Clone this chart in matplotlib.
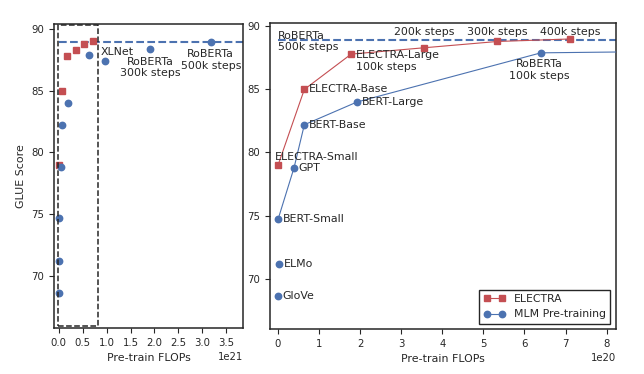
import numpy as np
import matplotlib
matplotlib.use('Agg')
import matplotlib.pyplot as plt
import matplotlib.patches as patches
import seaborn as sns

sns.set_style('ticks')
plt.rcParams['font.family'] = ['DejaVu Sans']
plt.rcParams['font.size'] = 7.9
plt.rcParams['axes.labelsize'] = 7.9
plt.rcParams['xtick.labelsize'] = 7.3
plt.rcParams['ytick.labelsize'] = 7.3
plt.rcParams['xtick.major.size'] = 3.5
plt.rcParams['ytick.major.size'] = 3.5

RED = '#C44E52'
BLUE = '#4C72B0'
DARK = '#262626'

# ELECTRA: Small, Base, Large 100k/200k/300k/400k
electra_flops = np.array([0.0, 0.64, 1.78, 3.55, 5.34, 7.12]) * 1e20
electra_glue = [79.0, 85.0, 87.8, 88.3, 88.8, 89.0]

# MLM line: BERT-Small, GPT, BERT-Base, BERT-Large, RoBERTa 100k/300k/500k
mlm_flops = np.array([0.0, 0.39, 0.64, 1.92, 6.4, 19.1, 31.8]) * 1e20
mlm_glue = [74.7, 78.8, 82.2, 84.0, 87.9, 88.35, 88.9]

# other baselines: GloVe, ELMo, XLNet
other_names = ['GloVe', 'ELMo', 'XLNet']
other_flops = np.array([0.0, 0.03, 9.6]) * 1e20
other_glue = [68.6, 71.2, 87.4]

roberta_best = 88.9

fig = plt.figure(figsize=(6.44, 3.74), dpi=100)
ax1 = fig.add_axes([0.084, 0.123, 0.293, 0.813])
ax2 = fig.add_axes([0.419, 0.120, 0.537, 0.818])

ms = 4.6
# ---- left: full view
ax1.plot([0, 1e22], [roberta_best, roberta_best], '--', color=BLUE, lw=1.5, zorder=1)
ax1.plot(electra_flops, electra_glue, 's', color=RED, ms=ms, zorder=3)
ax1.plot(mlm_flops, mlm_glue, 'o', color=BLUE, ms=ms, zorder=3)
ax1.plot(other_flops, other_glue, 'o', color=BLUE, ms=ms, zorder=3)
ax1.add_patch(patches.Rectangle((-0.2e20, 66.0), 8.4e20, 24.3, fill=False,
                                ls='--', lw=1.1, ec=DARK, zorder=4))
ax1.text(0.875e21, 88.1, 'XLNet', ha='left', va='center', color=DARK)
ax1.text(1.91e21, 87.76, 'RoBERTa\n300k steps', ha='center', va='top', color=DARK)
ax1.text(3.18e21, 88.35, 'RoBERTa\n500k steps', ha='center', va='top', color=DARK)
ax1.set_xlim(-0.1e21, 3.85e21)
ax1.set_ylim(65.8, 90.4)
ax1.set_xticks(np.arange(0, 3.6e21, 0.5e21))
ax1.set_yticks([70, 75, 80, 85, 90])
ax1.set_xlabel('Pre-train FLOPs')
ax1.set_ylabel('GLUE Score')

# ---- right: zoomed view
ax2.plot([0, 1e22], [roberta_best, roberta_best], '--', color=BLUE, lw=1.5, zorder=1)
ax2.plot(electra_flops, electra_glue, 's-', color=RED, ms=ms, lw=0.8, label='ELECTRA', zorder=3)
ax2.plot(mlm_flops, mlm_glue, 'o-', color=BLUE, ms=ms, lw=0.8, label='MLM Pre-training', zorder=3)
ax2.plot(other_flops, other_glue, 'o', color=BLUE, ms=ms, zorder=3)

ax2.text(0.0, 88.8, 'RoBERTa\n500k steps', ha='left', va='center', color=DARK)
for x, lab in zip(electra_flops[3:], ['200k steps', '300k steps', '400k steps']):
    ax2.text(x, 89.15, lab, ha='center', va='bottom', color=DARK)
ax2.text(1.89e20, 88.1, 'ELECTRA-Large\n100k steps', ha='left', va='top', color=DARK)
ax2.text(0.75e20, 85.0, 'ELECTRA-Base', ha='left', va='center', color=DARK)
ax2.text(2.03e20, 84.0, 'BERT-Large', ha='left', va='center', color=DARK)
ax2.text(0.75e20, 82.2, 'BERT-Base', ha='left', va='center', color=DARK)
ax2.text(-0.07e20, 79.65, 'ELECTRA-Small', ha='left', va='center', color=DARK)
ax2.text(0.5e20, 78.75, 'GPT', ha='left', va='center', color=DARK)
ax2.text(6.37e20, 87.4, 'RoBERTa\n100k steps', ha='center', va='top', color=DARK)
ax2.text(0.11e20, 74.7, 'BERT-Small', ha='left', va='center', color=DARK)
ax2.text(0.15e20, 71.2, 'ELMo', ha='left', va='center', color=DARK)
ax2.text(0.11e20, 68.6, 'GloVe', ha='left', va='center', color=DARK)

ax2.set_xlim(-0.2e20, 8.22e20)
ax2.set_ylim(66.0, 90.25)
ax2.set_xticks(np.arange(0, 8.5e20, 1e20))
ax2.set_yticks([70, 75, 80, 85, 90])
ax2.set_xlabel('Pre-train FLOPs')
leg = ax2.legend(loc='lower right', numpoints=2, frameon=True, fancybox=False,
                 edgecolor=DARK, framealpha=1, fontsize=7.8)
leg.get_frame().set_linewidth(1.0)

for ax in (ax1, ax2):
    for s in ax.spines.values():
        s.set_linewidth(1.1)
        s.set_color(DARK)

fig.savefig('out.png', dpi=100)
